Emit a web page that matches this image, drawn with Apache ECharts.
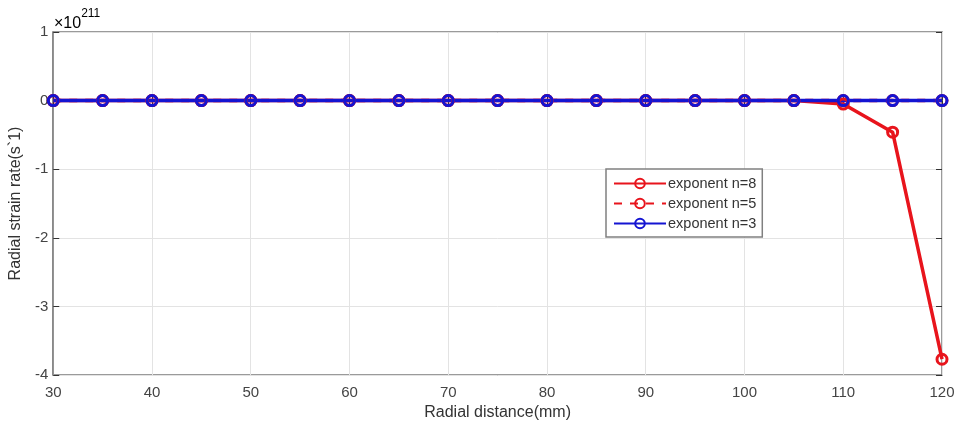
<!DOCTYPE html>
<html>
<head>
<meta charset="utf-8">
<script src="https://cdn.jsdelivr.net/npm/echarts@6/dist/echarts.min.js"></script>
<style>
  html, body { margin: 0; padding: 0; background: #fff; }
  #chart { width: 964px; height: 434px; }
</style>
</head>
<body>
<div id="chart"></div>
<script>
// radial distance in mm
const distances = [30, 35, 40, 45, 50, 55, 60, 65, 70, 75, 80, 85, 90, 95, 100, 105, 110, 115, 120];
// strain rate in units of 1e211
const n8 = [0, 0, 0, 0, 0, 0, 0, 0, 0, 0, 0, 0, 0, 0, 0, 0, -0.05, -0.46, -3.77];
const n5 = [0, 0, 0, 0, 0, 0, 0, 0, 0, 0, 0, 0, 0, 0, 0, 0, 0, 0, 0];
const n3 = [0, 0, 0, 0, 0, 0, 0, 0, 0, 0, 0, 0, 0, 0, 0, 0, 0, 0, 0];
const seriesNames = ['exponent n=8', 'exponent n=5', 'exponent n=3'];

const chart = echarts.init(document.getElementById('chart'));
const font = 'Liberation Sans, Arial, sans-serif';
const axisGrey = '#7a7a7a';

function pairs(vals) {
    return distances.map((d, i) => [d, vals[i]]);
}

function lineSeries(name, vals, color, dashed) {
    return {
        name: name,
        type: 'line',
        data: pairs(vals),
        symbol: 'circle',
        symbolSize: 10,
        lineStyle: { color: color, width: 3.5, type: dashed ? [8, 8] : 'solid' },
        itemStyle: { color: 'rgba(255,255,255,0)', borderColor: color, borderWidth: 3 },
        emphasis: { disabled: true }
    };
}

const option = {
    animation: false,
    grid: { left: 53, right: 22, top: 32, bottom: 59, show: true, borderColor: axisGrey, borderWidth: 1.5 },
    legend: {
        orient: 'vertical',
        left: 606, top: 169,
        itemWidth: 52, itemHeight: 12, itemGap: 5,
        padding: [7, 6, 6, 7],
        backgroundColor: '#fff',
        borderColor: '#808080', borderWidth: 1.5,
        textStyle: { fontFamily: font, fontSize: 14.5, color: '#333', padding: [0, 0, 0, -3] },
        data: seriesNames
    },
    xAxis: [{
        type: 'value', min: 30, max: 120, interval: 10,
        name: 'Radial distance(mm)', nameLocation: 'middle', nameGap: 30,
        nameTextStyle: { fontFamily: font, fontSize: 16, color: '#333' },
        axisLine: { lineStyle: { color: axisGrey, width: 1.5 } },
        axisTick: { inside: true, length: 6, lineStyle: { color: '#333' } },
        axisLabel: { fontFamily: font, fontSize: 15, color: '#444', margin: 10 },
        splitLine: { lineStyle: { color: '#e3e3e3' } }
    }, {
        type: 'value', position: 'top', min: 30, max: 120, interval: 10,
        axisLine: { show: false },
        axisTick: { inside: true, length: 6, lineStyle: { color: '#333' } },
        axisLabel: { show: false }, splitLine: { show: false }
    }],
    yAxis: [{
        type: 'value', min: -4, max: 1, interval: 1,
        name: 'Radial strain rate(s`1)', nameLocation: 'middle', nameGap: 27,
        nameTextStyle: { fontFamily: font, fontSize: 16, color: '#333' },
        axisLine: { lineStyle: { color: axisGrey, width: 1.5 } },
        axisTick: { inside: true, length: 6, lineStyle: { color: '#333' } },
        axisLabel: { fontFamily: font, fontSize: 15, color: '#444', margin: 5 },
        splitLine: { lineStyle: { color: '#e3e3e3' } }
    }, {
        type: 'value', position: 'right', min: -4, max: 1, interval: 1,
        axisLine: { show: false },
        axisTick: { inside: true, length: 6, lineStyle: { color: '#333' } },
        axisLabel: { show: false }, splitLine: { show: false }
    }],
    graphic: [{
        type: 'text', left: 54, top: 8,
        style: {
            text: '{a|×10}{b|211}',
            rich: {
                a: { fontFamily: font, fontSize: 16, color: '#444', padding: [8, 0, 0, 0] },
                b: { fontFamily: font, fontSize: 12, color: '#444', verticalAlign: 'top' }
            }
        }
    }],
    series: [
        lineSeries(seriesNames[0], n8, '#e8141c', false),
        lineSeries(seriesNames[1], n5, '#e8141c', true),
        lineSeries(seriesNames[2], n3, '#1414d2', false)
    ]
};

chart.setOption(option);
</script>
</body>
</html>
